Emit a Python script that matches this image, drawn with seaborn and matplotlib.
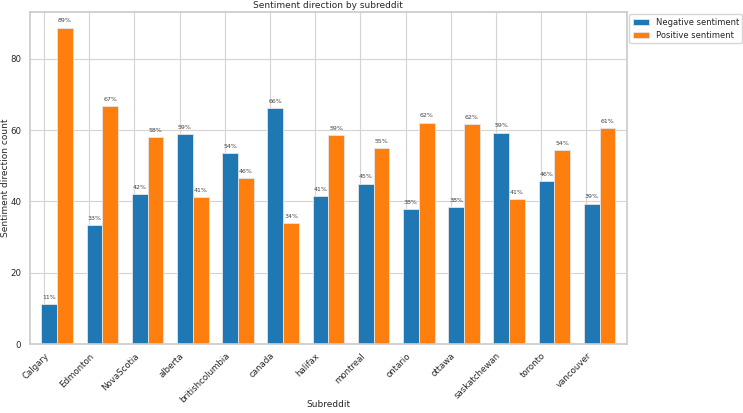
import numpy as np
import pandas as pd
import matplotlib
matplotlib.use('Agg')
import matplotlib.pyplot as plt
import seaborn as sns

sns.set_theme(style='whitegrid')
plt.rcParams['font.family'] = ['DejaVu Sans']

# Data (percent of posts per subreddit)
subreddits = ['Calgary', 'Edmonton', 'NovaScotia', 'alberta', 'britishcolumbia', 'canada',
              'halifax', 'montreal', 'ontario', 'ottawa', 'saskatchewan', 'toronto', 'vancouver']
negative = [11.3, 33.3, 42.0, 58.8, 53.5, 66.1, 41.4, 45.0, 37.9, 38.4, 59.3, 45.7, 39.4]
positive = [88.7, 66.7, 58.0, 41.2, 46.5, 33.9, 58.6, 55.0, 62.1, 61.6, 40.7, 54.3, 60.6]
series_names = ['Negative sentiment', 'Positive sentiment']

df = pd.DataFrame({
    'Subreddit': subreddits * 2,
    'count': negative + positive,
    'direction': [series_names[0]] * len(subreddits) + [series_names[1]] * len(subreddits),
})

fig, ax = plt.subplots(figsize=(7.43, 4.13), dpi=100)
fig.subplots_adjust(left=0.0404, right=0.8435, top=0.9717, bottom=0.1663)

sns.barplot(data=df, x='Subreddit', y='count', hue='direction', order=subreddits,
            hue_order=series_names, palette=['#1f77b4', '#ff7f0e'], saturation=1,
            width=0.7, edgecolor='#e6e6e6', linewidth=0.6, ax=ax)

# Percentage labels above the bars
for cont in ax.containers:
    ax.bar_label(cont, labels=[f'{v:.0f}%' for v in cont.datavalues],
                 padding=3, fontsize=4.5, color='#444444')

# ticks sit a little left of each bar pair, like the original
ax.set_xticks(np.arange(len(subreddits)) - 0.29)
ax.set_xticklabels(subreddits, rotation=45, ha='right', rotation_mode='anchor')
ax.set_xlim(-0.6, len(subreddits) - 0.4)
ax.set_ylim(0, max(positive + negative) * 1.05)
ax.set_yticks([0, 20, 40, 60, 80])
ax.grid(True, axis='both', color='#d4d4d4', linewidth=0.8)
ax.set_axisbelow(True)

ax.set_title('Sentiment direction by subreddit', fontsize=6.5, pad=3)
ax.set_xlabel('Subreddit', fontsize=6.5)
ax.set_ylabel('Sentiment direction count', fontsize=6.5)
ax.xaxis.set_label_coords(0.5, -0.167)
ax.yaxis.set_label_coords(-0.033, 0.5)
ax.tick_params(axis='both', labelsize=6.2, length=0)
ax.tick_params(axis='y', pad=6.3)
ax.tick_params(axis='x', pad=5)

ax.legend(loc='upper left', bbox_to_anchor=(1.0, 1.0), fontsize=6, title=None,
          frameon=True, handlelength=2, borderaxespad=0.3)

fig.savefig('out.png', dpi=100)
